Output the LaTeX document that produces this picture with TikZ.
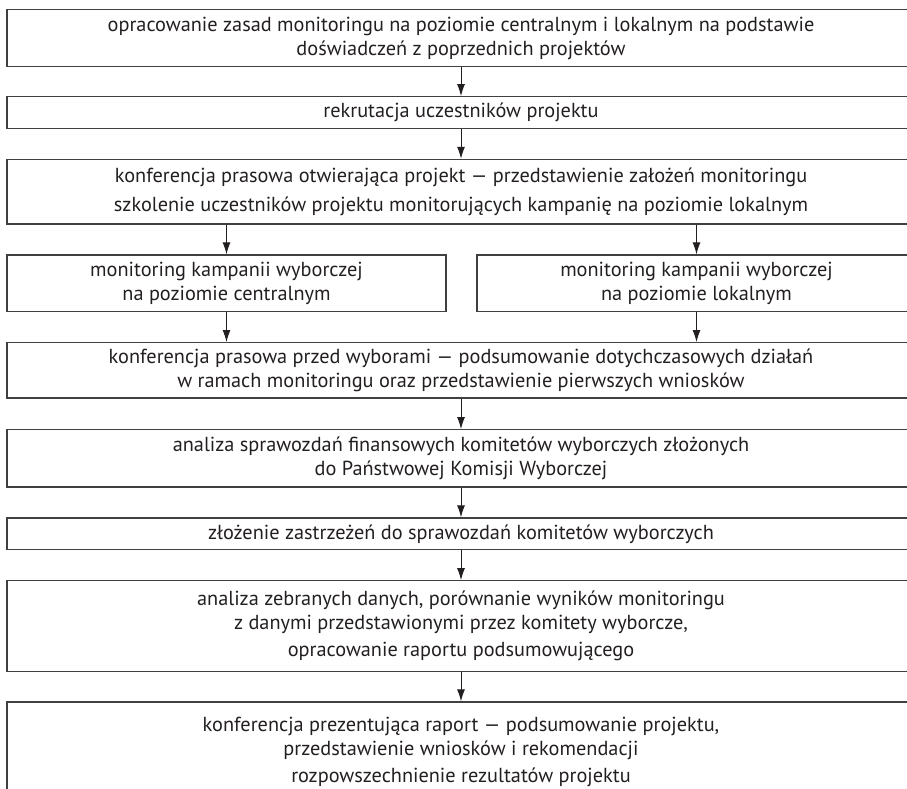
\documentclass[tikz,border=0pt]{standalone}
\usepackage{fontspec}
\setmainfont{PT Sans}
\usetikzlibrary{arrows.meta}
\definecolor{ramka}{HTML}{404040}
\definecolor{tekst}{HTML}{231F20}
\begin{document}
\begin{tikzpicture}[x=1pt,y=-1pt,
    krok/.style={draw=ramka,line width=1.2pt,rectangle,inner sep=0pt,align=center,
      text=tekst,font=\fontsize{20.3}{24}\selectfont,minimum width=908pt},
    strz/.style={draw=tekst,line width=1pt,-{Latex[length=12pt,width=8pt]}}]
                 \path[use as bounding box,clip] (0,0) rectangle (907,788);
                 \node[krok,minimum height=57.4pt](plan)at(461,38){opracowanie zasad monitoringu na poziomie centralnym i lokalnym na podstawie\\doświadczeń z poprzednich projektów};
                 \node[krok,minimum height=31.6pt](rekrutacja)at(461,112.5){rekrutacja uczestników projektu};
                 \node[krok,minimum height=64.7pt](otwarcie)at(461,191.7){konferencja prasowa otwierająca projekt — przedstawienie założeń monitoringu\\[5pt]szkolenie uczestników projektu monitorujących kampanię na poziomie lokalnym};
                 \node[krok,minimum width=439pt,minimum height=56.7pt](centralny)at(226.5,283.3){monitoring kampanii wyborczej\\na poziomie centralnym};
                 \node[krok,minimum width=439pt,minimum height=56.7pt](lokalny)at(696.5,283.3){monitoring kampanii wyborczej\\na poziomie lokalnym};
                 \node[krok,minimum height=55.3pt](wybory)at(461,370.3){konferencja prasowa przed wyborami — podsumowanie dotychczasowych działań\\w ramach monitoringu oraz przedstawienie pierwszych wniosków};
                 \node[krok,minimum height=57.3pt](sprawozdania)at(461,458.3){analiza sprawozdań finansowych komitetów wyborczych złożonych\\do Państwowej Komisji Wyborczej};
                 \node[krok,minimum height=31.7pt](zastrzezenia)at(461,533.8){złożenie zastrzeżeń do sprawozdań komitetów wyborczych};
                 \node[krok,minimum height=90.6pt](analiza)at(461,626){analiza zebranych danych, porównanie wyników monitoringu\\z danymi przedstawionymi przez komitety wyborcze,\\[3pt]opracowanie raportu podsumowującego};
                 \node[krok,minimum height=100pt](raport)at(461,752){konferencja prezentująca raport — podsumowanie projektu,\\przedstawienie wniosków i rekomendacji\\[3pt]rozpowszechnienie rezultatów projektu};
                 \draw[strz](plan)--(rekrutacja);
                 \draw[strz](rekrutacja)--(otwarcie);
                 \draw[strz](otwarcie.south-|centralny)--(centralny);
                 \draw[strz](otwarcie.south-|lokalny)--(lokalny);
                 \draw[strz](centralny)--(centralny|-wybory.north);
                 \draw[strz](lokalny)--(lokalny|-wybory.north);
                 \draw[strz](wybory)--(sprawozdania);
                 \draw[strz](sprawozdania)--(zastrzezenia);
                 \draw[strz](zastrzezenia)--(analiza);
                 \draw[strz](analiza)--(raport);
               \end{tikzpicture}
\end{document}
